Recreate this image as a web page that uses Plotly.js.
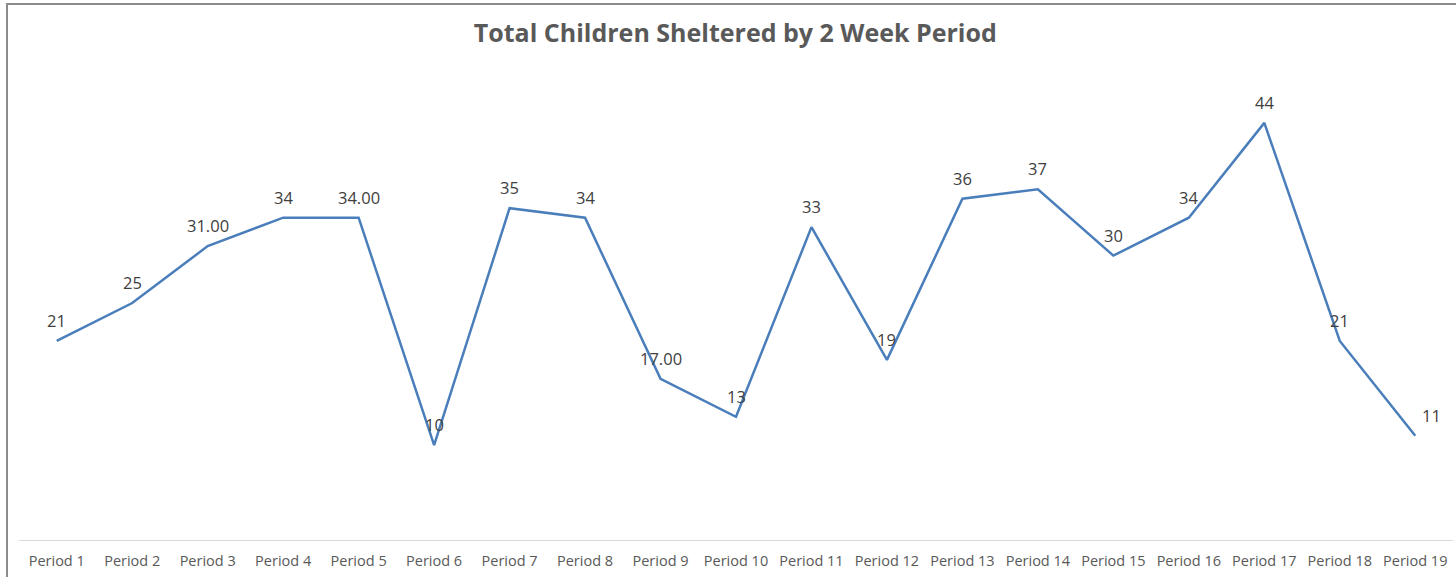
<!DOCTYPE html>
<html>
<head>
<meta charset="utf-8">
<script src="https://cdn.plot.ly/plotly-3.0.1.min.js"></script>
<style>
html,body{margin:0;padding:0;background:#fff;overflow:hidden;}
#frame{position:absolute;left:6px;top:3px;width:1460px;height:590px;border-left:2px solid #8c8c8c;border-top:2px solid #8c8c8c;}
#chart{position:absolute;left:0;top:0;width:1456px;height:577px;}
</style>
</head>
<body>
<div id="frame"></div>
<div id="chart"></div>
<script>
const periods = ["Period 1","Period 2","Period 3","Period 4","Period 5","Period 6","Period 7","Period 8","Period 9","Period 10","Period 11","Period 12","Period 13","Period 14","Period 15","Period 16","Period 17","Period 18","Period 19"];
const children = [21,25,31,34,34,10,35,34,17,13,33,19,36,37,30,34,44,21,11];
const labels = ["21","25","31.00","34","34.00","10","35","34","17.00","13","33","19","36","37","30","34","44","21","11"];

const FONT = '"Open Sans", Lato, sans-serif';
const last = children.length - 1;
const annotations = children.map((v, i) => ({
  x: periods[i], y: v, xref: 'x', yref: 'y',
  text: labels[i], showarrow: false,
  xanchor: i === last ? 'left' : 'center',
  xshift: i === last ? 5 : 0,
  yanchor: 'bottom', yshift: 7,
  font: {family: FONT, size: 16.5, color: '#404040'}
}));

Plotly.newPlot('chart', [{
  x: periods,
  y: children,
  type: 'scatter',
  mode: 'lines',
  line: {color: '#4A7EBB', width: 2.5},
  cliponaxis: false,
  hoverinfo: 'x+y'
}], {
  width: 1456, height: 577,
  paper_bgcolor: 'rgba(0,0,0,0)',
  plot_bgcolor: 'rgba(0,0,0,0)',
  margin: {l: 19, r: 3, t: 66, b: 37},
  title: {text: '<b>Total Children Sheltered by 2 Week Period</b>', x: 0.505, xanchor: 'center', y: 0.943, yanchor: 'middle',
          font: {family: FONT, size: 25, color: '#595959'}},
  showlegend: false,
  annotations: annotations,
  xaxis: {
    type: 'category',
    range: [-0.5, 18.5],
    showgrid: false,
    zeroline: false,
    showline: true,
    linecolor: '#d9d9d9',
    linewidth: 1,
    ticks: '',
    tickfont: {family: FONT, size: 14.5, color: '#595959'},
    ticklabelstandoff: 8,
    fixedrange: true
  },
  yaxis: {
    range: [0, 50],
    visible: false,
    fixedrange: true
  }
}, {displayModeBar: false});
</script>
</body>
</html>
